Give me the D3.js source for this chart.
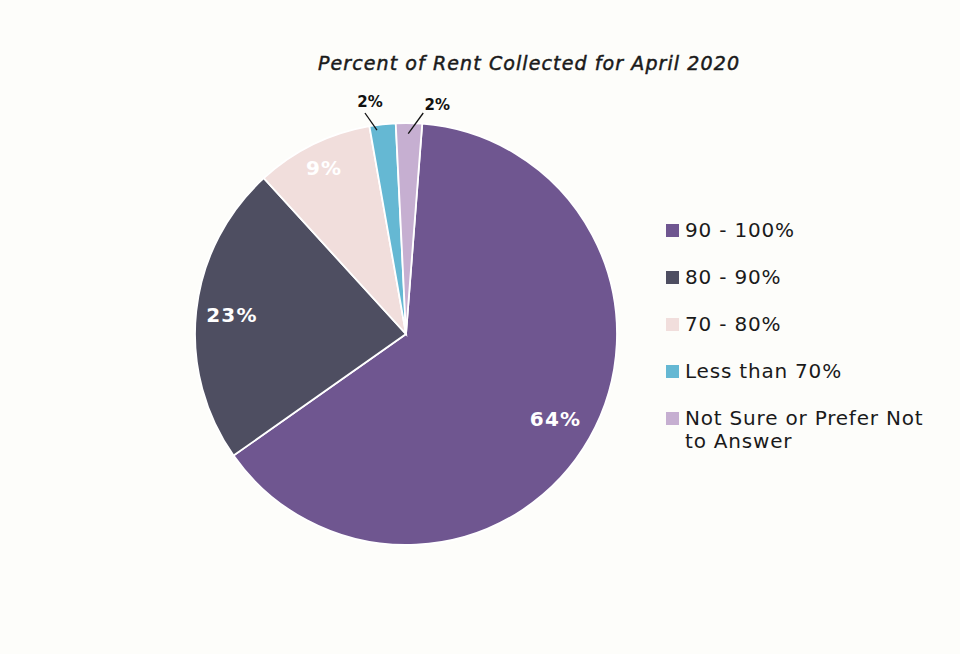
<!DOCTYPE html>
<html>
<head>
<meta charset="utf-8">
<script src="https://cdn.jsdelivr.net/npm/d3@7"></script>
<style>
  body { margin: 0; background: #fdfdfa; }
  svg { display: block; font-family: "DejaVu Sans", sans-serif; }
</style>
</head>
<body>
<div id="chart"></div>
<script>
const categories = ['90 - 100%', '80 - 90%', '70 - 80%', 'Less than 70%', 'Not Sure or Prefer Not to Answer'];
const legendLines = [['90 - 100%'], ['80 - 90%'], ['70 - 80%'], ['Less than 70%'], ['Not Sure or Prefer Not', 'to Answer']];
const values = [64, 23, 9, 2, 2];
const colors = ['#6f5690', '#4e4e61', '#f1dedc', '#65b8d3', '#c6afd1'];

const w = 960,
  h = 654;
const cx = 406,
  cy = 334,
  r = 211;

const data = categories.map((c, i) => ({
  category: c,
  lines: legendLines[i],
  value: values[i],
  color: colors[i]
}));

const svg = d3
  .select('#chart')
  .append('svg')
  .attr('width', w)
  .attr('height', h);

svg.append('rect').attr('width', w).attr('height', h).attr('fill', '#fdfdfa');

svg
  .append('text')
  .attr('x', 529)
  .attr('y', 70)
  .attr('text-anchor', 'middle')
  .style('font-size', '19px')
  .style('letter-spacing', '1.1px')
  .style('font-style', 'italic')
  .style('font-weight', 400)
  .style('fill', '#1a1a1a')
  .style('stroke', '#1a1a1a')
  .style('stroke-width', 0.5)
  .text('Percent of Rent Collected for April 2020');

// start a little right of 12 o'clock, like the original
const pie = d3
  .pie()
  .sort(null)
  .value((d) => d.value)
  .startAngle(0.077)
  .endAngle(0.077 + 2 * Math.PI);

const arc = d3.arc().innerRadius(0).outerRadius(r);
const arcs = pie(data);

const g = svg.append('g').attr('transform', `translate(${cx},${cy})`);

g.selectAll('path')
  .data(arcs)
  .join('path')
  .attr('d', arc)
  .attr('fill', (d) => d.data.color)
  .attr('stroke', '#ffffff')
  .attr('stroke-width', 1.8);

// labels inside the big slices
const insideLabels = arcs.filter((d) => d.data.value > 5);
const insideRadius = { 64: 0.815, 23: 0.83, 9: 0.88 };

g.selectAll('text.inside')
  .data(insideLabels)
  .join('text')
  .attr('class', 'inside')
  .attr('transform', (d) => {
    const k = insideRadius[d.data.value];
    const a = (d.startAngle + d.endAngle) / 2;
    return `translate(${Math.sin(a) * r * k},${-Math.cos(a) * r * k})`;
  })
  .attr('text-anchor', 'middle')
  .attr('dy', '0.36em')
  .style('font-size', '20px')
  .style('letter-spacing', '1.2px')
  .style('font-weight', 700)
  .style('fill', '#ffffff')
  .text((d) => d.data.value + '%');

// small slices get labels outside with leader lines
const outsideLabels = arcs.filter((d) => d.data.value <= 5);
const leader = [
  { da: -0.03, r1: 0.976, dx: -12, tx: 5, ty: -6 },
  { da: -0.003, r1: 0.95, dx: 15, tx: 14, ty: -3 }
];

outsideLabels.forEach((d, i) => {
  const a = (d.startAngle + d.endAngle) / 2 + leader[i].da;
  const p1 = [Math.sin(a) * r * leader[i].r1, -Math.cos(a) * r * leader[i].r1];
  const p2 = [p1[0] + leader[i].dx, -r - 10];
  g.append('line')
    .attr('x1', p1[0])
    .attr('y1', p1[1])
    .attr('x2', p2[0])
    .attr('y2', p2[1])
    .attr('stroke', '#111')
    .attr('stroke-width', 1.3);
  g.append('text')
    .attr('x', p2[0] + leader[i].tx)
    .attr('y', p2[1] + leader[i].ty)
    .attr('text-anchor', 'middle')
    .style('font-size', '15px')
    .style('font-weight', 700)
    .style('fill', '#111')
    .text(d.data.value + '%');
});

// legend
const legend = svg.append('g').attr('transform', 'translate(666,230)');
const rowStep = 47;

const item = legend
  .selectAll('g')
  .data(data)
  .join('g')
  .attr('transform', (d, i) => `translate(0,${i * rowStep})`);

item
  .append('rect')
  .attr('x', 0)
  .attr('y', -6)
  .attr('width', 13)
  .attr('height', 13)
  .attr('fill', (d) => d.color);

item
  .selectAll('text')
  .data((d) => d.lines)
  .join('text')
  .attr('x', 19)
  .attr('y', (d, j) => j * 23)
  .attr('dy', '0.36em')
  .style('font-size', '20px')
  .style('letter-spacing', '0.8px')
  .style('fill', '#1a1a1a')
  .text((d) => d);
</script>
</body>
</html>
